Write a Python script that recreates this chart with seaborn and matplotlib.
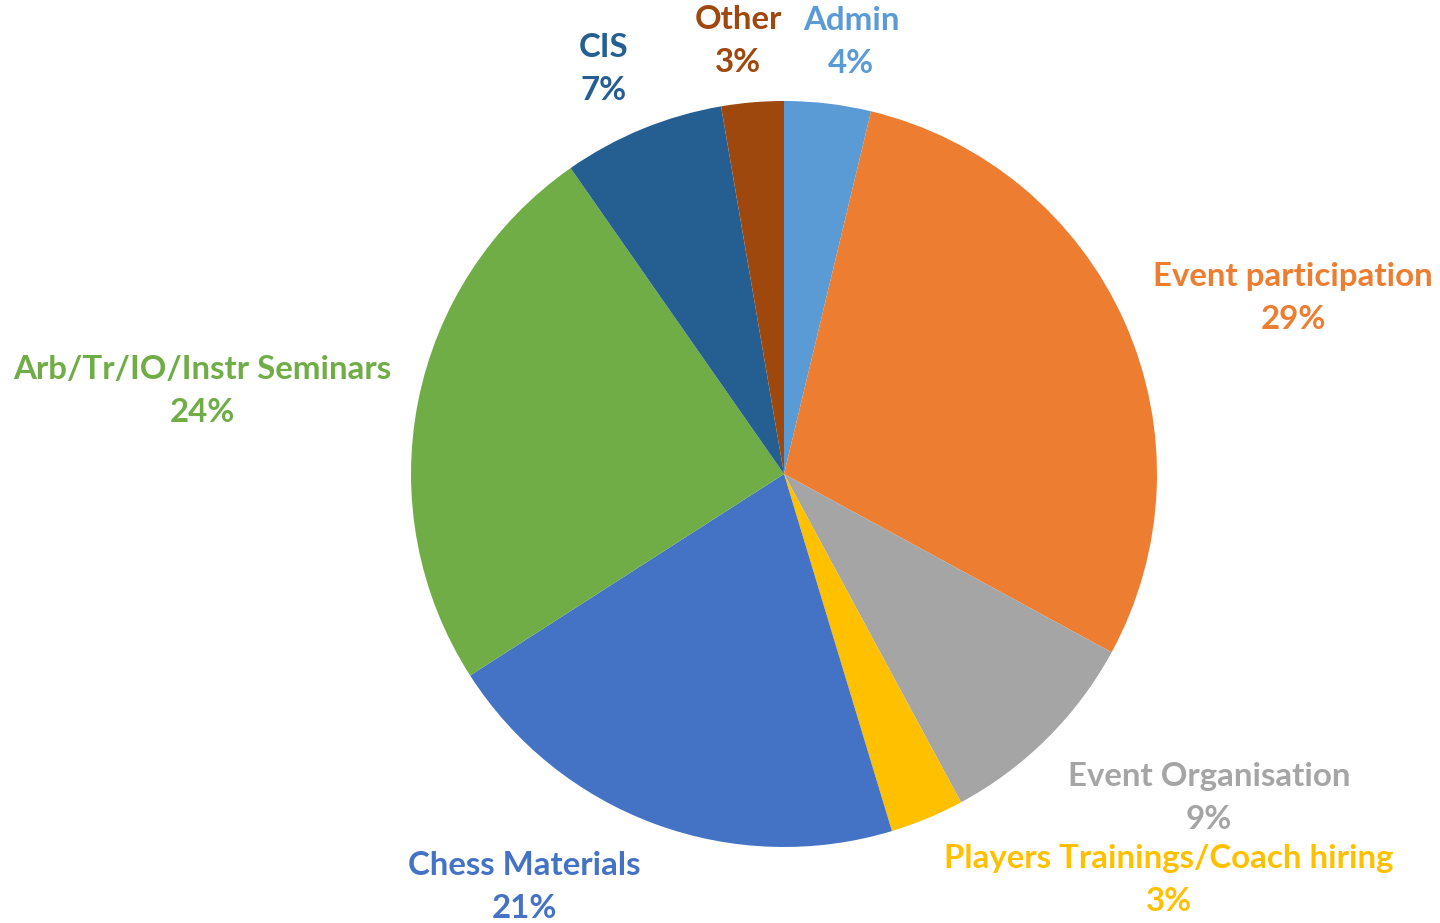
import matplotlib
matplotlib.use("Agg")
import matplotlib.pyplot as plt
import seaborn as sns

sns.set_theme(style="white")
plt.rcParams['font.family'] = ['Lato', 'DejaVu Sans']

categories = ["Admin", "Event participation", "Event Organisation",
              "Players Trainings/Coach hiring", "Chess Materials",
              "Arb/Tr/IO/Instr Seminars", "CIS", "Other"]
shares = [3.75, 29.2, 9.2, 3.2, 20.6, 24.4, 7.0, 2.7]
colors = ["#5B9BD5", "#ED7D31", "#A5A5A5", "#FFC000", "#4472C4",
          "#70AD47", "#255E91", "#9E480E"]

# label block centres in pixel coordinates of the reference (x, y from top)
label_px = [(851, 42), (1293, 298), (1209, 798), (1169, 880),
            (524, 887), (202, 391), (604, 69), (738, 41)]

W, H = 1440, 923
cx, cy, R = 784, 474, 373
fig = plt.figure(figsize=(W / 100, H / 100), dpi=100)
ax = fig.add_axes([(cx - R) / W, (H - cy - R) / H, 2 * R / W, 2 * R / H])

ax.pie(shares, colors=colors, startangle=90, counterclock=False,
       radius=1.0, wedgeprops=dict(linewidth=0))
ax.set_xlim(-1, 1)
ax.set_ylim(-1, 1)
ax.set_aspect('equal')
ax.axis('off')

total = sum(shares)
for cat, val, col, (px, py) in zip(categories, shares, colors, label_px):
    x = (px - cx) / R
    y = (cy - py) / R
    ax.text(x, y, f"{cat}\n{round(val / total * 100)}%", color=col,
            fontsize=23.8, fontweight='bold', ha='center', va='center',
            linespacing=1.56, clip_on=False)

fig.savefig("out.png", dpi=100)
